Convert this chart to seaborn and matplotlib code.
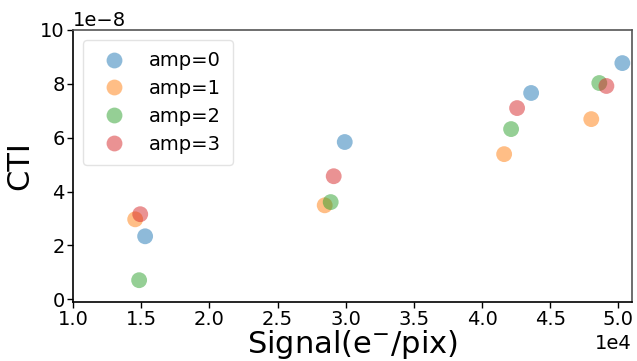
import numpy as np
import pandas as pd
import matplotlib
matplotlib.use("Agg")
import matplotlib.pyplot as plt
import seaborn as sns

# Signal (e-/pix) and CTI for each amplifier
amp_labels = ["amp=0", "amp=1", "amp=2", "amp=3"]
signal_amp0 = [15290, 29930, 43600, 50290]
signal_amp1 = [14560, 28460, 41620, 48010]
signal_amp2 = [14850, 28900, 42130, 48600]
signal_amp3 = [14930, 29120, 42570, 49120]
cti_amp0 = [2.34e-8, 5.84e-8, 7.66e-8, 8.77e-8]
cti_amp1 = [2.97e-8, 3.49e-8, 5.39e-8, 6.69e-8]
cti_amp2 = [0.71e-8, 3.61e-8, 6.32e-8, 8.03e-8]
cti_amp3 = [3.16e-8, 4.57e-8, 7.10e-8, 7.92e-8]

signals = [signal_amp0, signal_amp1, signal_amp2, signal_amp3]
ctis = [cti_amp0, cti_amp1, cti_amp2, cti_amp3]
df = pd.concat(
    [pd.DataFrame({"signal": s, "cti": c, "amp": lab})
     for s, c, lab in zip(signals, ctis, amp_labels)],
    ignore_index=True,
)

sns.set_style("white")
plt.rcParams["font.family"] = ["DejaVu Sans"]
plt.rcParams.update({"text.color": "black", "axes.labelcolor": "black",
                     "xtick.color": "black", "ytick.color": "black"})

fig = plt.figure(figsize=(6.37, 3.61), dpi=100)
ax = fig.add_axes([0.1146, 0.1634, 0.8776, 0.7536])

sns.scatterplot(data=df, x="signal", y="cti", hue="amp", palette="tab10",
                s=130, alpha=0.5, linewidth=0, ax=ax)

ax.set_xlim(10000, 51000)
ax.set_ylim(-0.1e-8, 10e-8)
ax.set_xticks(np.arange(10000, 50001, 5000))
ax.set_yticks(np.arange(0, 10.01e-8, 2e-8))
ax.ticklabel_format(style="sci", axis="x", scilimits=(4, 4))
ax.ticklabel_format(style="sci", axis="y", scilimits=(-8, -8))
ax.tick_params(axis="both", which="major", labelsize=14, length=4,
               width=1, color="black", labelcolor="black", direction="out",
               bottom=True, left=True, pad=2)
ax.xaxis.get_offset_text().set_fontsize(14)
ax.yaxis.get_offset_text().set_fontsize(14)

ax.set_xlabel(r"Signal(e$^{-}$/pix)", fontsize=22, labelpad=-1, color="black")
ax.set_ylabel("CTI", fontsize=22, labelpad=4, color="black")

for side in ["left", "bottom"]:
    ax.spines[side].set_color("black")
    ax.spines[side].set_linewidth(1.2)
for side in ["top", "right"]:
    ax.spines[side].set_color("#555555")
    ax.spines[side].set_linewidth(1.2)

leg = ax.legend(loc="upper left", fontsize=14, markerscale=1.0, frameon=True,
                borderpad=0.6, handletextpad=0.8, labelspacing=0.45)
leg.get_frame().set_edgecolor("#dddddd")
for t in leg.get_texts():
    t.set_color("black")

fig.savefig("out.png", dpi=100)
